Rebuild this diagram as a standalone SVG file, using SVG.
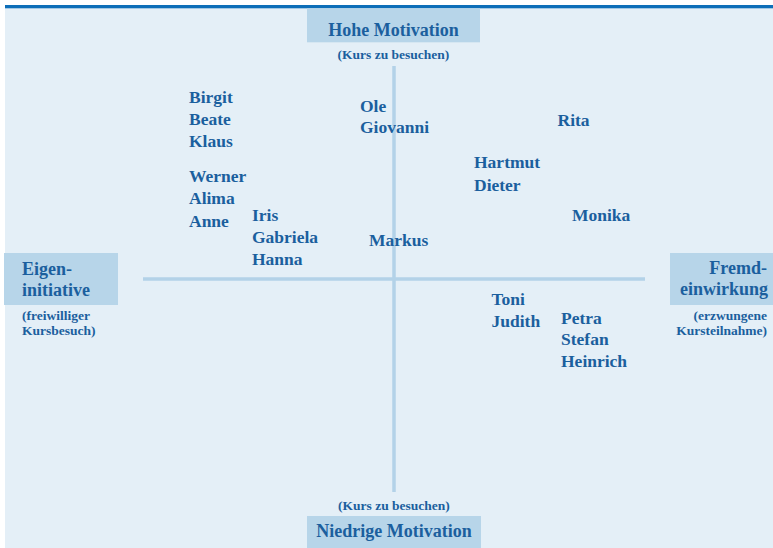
<svg xmlns="http://www.w3.org/2000/svg" width="773" height="548" viewBox="0 0 773 548">
<style>
text{font-family:"Liberation Serif","DejaVu Serif",serif;font-weight:bold;fill:#1b5f9e}
.big{font-size:18px}
.small{font-size:13.5px}
.name{font-size:17.5px}
.box{fill:#b7d5e9}
.axis{stroke:#b3d2e8;stroke-width:3.5;fill:none}
.r{text-anchor:end}
.c{text-anchor:middle}
</style>
<rect x="0" y="0" width="773" height="548" fill="#ffffff"/>
<rect x="5" y="5" width="768" height="543" fill="#e4eff7"/>
<rect x="5" y="5" width="768" height="3.3" fill="#0d6eb8"/>
<g id="connectors">
<line class="axis" x1="394" y1="66" x2="394" y2="492"/>
<line class="axis" x1="143" y1="279" x2="645" y2="279"/>
</g>
<g id="hohe-motivation">
<rect class="box" x="307" y="8.3" width="173" height="34"/>
<text class="big c" x="393.5" y="36">Hohe Motivation</text>
<text class="small c" x="393.5" y="59">(Kurs zu besuchen)</text>
</g>
<g id="niedrige-motivation">
<rect class="box" x="307" y="516" width="174" height="32"/>
<text class="small c" x="394" y="510">(Kurs zu besuchen)</text>
<text class="big c" x="394" y="537">Niedrige Motivation</text>
</g>
<g id="eigeninitiative">
<rect class="box" x="4" y="253" width="114" height="52"/>
<text class="big" x="22" y="275">Eigen-</text>
<text class="big" x="22" y="296">initiative</text>
<text class="small" x="22" y="320">(freiwilliger</text>
<text class="small" x="22" y="335">Kursbesuch)</text>
</g>
<g id="fremdeinwirkung">
<rect class="box" x="670" y="253" width="103" height="52"/>
<text class="big r" x="767" y="274">Fremd-</text>
<text class="big r" x="768" y="295">einwirkung</text>
<text class="small r" x="767" y="320">(erzwungene</text>
<text class="small r" x="767" y="335">Kursteilnahme)</text>
</g>
<g id="group-birgit">
<text class="name" x="189" y="102.5">Birgit</text>
<text class="name" x="189" y="124.5">Beate</text>
<text class="name" x="189" y="146.5">Klaus</text>
</g>
<g id="group-werner">
<text class="name" x="189" y="182">Werner</text>
<text class="name" x="189" y="204">Alima</text>
<text class="name" x="189" y="227">Anne</text>
</g>
<g id="group-iris">
<text class="name" x="252" y="220.5">Iris</text>
<text class="name" x="252" y="242.5">Gabriela</text>
<text class="name" x="252" y="265">Hanna</text>
</g>
<g id="group-ole">
<text class="name" x="360" y="111.5">Ole</text>
<text class="name" x="360" y="133">Giovanni</text>
</g>
<g id="markus"><text class="name" x="369" y="246">Markus</text></g>
<g id="rita"><text class="name" x="557.5" y="126">Rita</text></g>
<g id="group-hartmut">
<text class="name" x="474" y="168">Hartmut</text>
<text class="name" x="474" y="191">Dieter</text>
</g>
<g id="monika"><text class="name" x="572" y="220.5">Monika</text></g>
<g id="group-toni">
<text class="name" x="491.5" y="305">Toni</text>
<text class="name" x="491.5" y="326.5">Judith</text>
</g>
<g id="group-petra">
<text class="name" x="561" y="323.5">Petra</text>
<text class="name" x="561" y="345">Stefan</text>
<text class="name" x="561" y="367">Heinrich</text>
</g>
</svg>
